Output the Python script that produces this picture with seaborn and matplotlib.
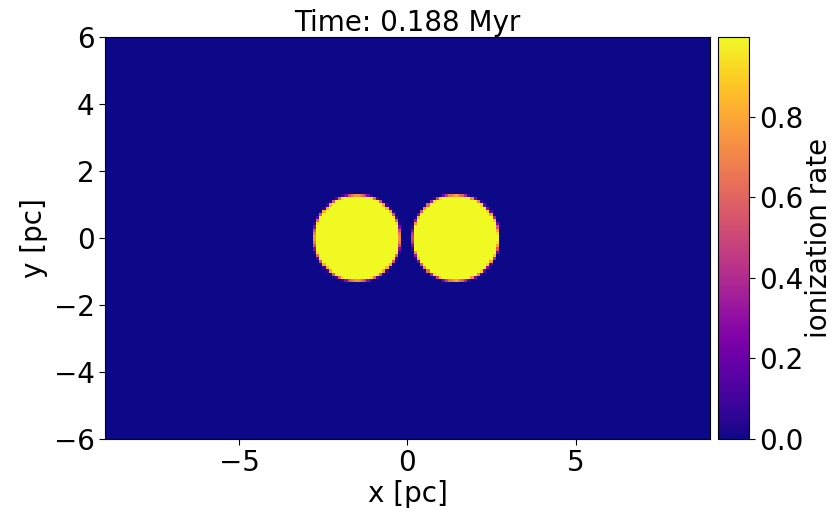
import numpy as np
import pandas as pd
import matplotlib
matplotlib.use("Agg")
import matplotlib.pyplot as plt
import seaborn as sns

# Simulation grid (pc)
x_range = [-9.0, 9.0]
y_range = [-6.0, 6.0]
n_x = 192
n_y = 128

# Ionized regions
region_x = [-1.50, 1.43]
region_y = [0.0, 0.0]
region_radius = [1.29, 1.29]

x_ticks = [-5, 0, 5]
y_ticks = [-6, -4, -2, 0, 2, 4, 6]
cbar_ticks = [0.0, 0.2, 0.4, 0.6, 0.8]
time_myr = 0.188

# Build the ionization field (cell coverage by supersampling)
dx = (x_range[1] - x_range[0]) / n_x
dy = (y_range[1] - y_range[0]) / n_y
sub = 6
xs = x_range[0] + (np.arange(n_x * sub) + 0.5) * dx / sub
ys = y_range[0] + (np.arange(n_y * sub) + 0.5) * dy / sub
X, Y = np.meshgrid(xs, ys)
mask = np.zeros_like(X, dtype=bool)
for cx, cy, r in zip(region_x, region_y, region_radius):
    mask |= (X - cx) ** 2 + (Y - cy) ** 2 <= r ** 2
field = mask.reshape(n_y, sub, n_x, sub).mean(axis=(1, 3)) * 0.998

df = pd.DataFrame(field)

fig = plt.figure(figsize=(8.33, 5.13), dpi=100)
ax = fig.add_axes([0.126, 0.1442, 0.7263, 0.7836])
cax = fig.add_axes([0.862, 0.1442, 0.0372, 0.7836])

sns.heatmap(df, ax=ax, cmap='plasma', vmin=0, vmax=0.998,
            xticklabels=False, yticklabels=False, cbar_ax=cax,
            cbar_kws={'ticks': cbar_ticks})
ax.invert_yaxis()

# Re-enable the frame that heatmap removes
for s in ax.spines.values():
    s.set_visible(True)
    s.set_color('black')
    s.set_linewidth(0.8)

ax.set_xticks([(v - x_range[0]) / dx for v in x_ticks])
ax.set_xticklabels([f"{v}".replace('-', '\u2212') for v in x_ticks], fontsize=20)
ax.set_yticks([(v - y_range[0]) / dy for v in y_ticks])
ax.set_yticklabels([f"{v}".replace('-', '\u2212') for v in y_ticks], fontsize=20, rotation=0)
ax.tick_params(axis='both', length=4, width=0.8, direction='out', pad=3.5)
ax.set_xlabel('x [pc]', fontsize=20, labelpad=2)
ax.set_ylabel('y [pc]', fontsize=20)
ax.set_title(f'Time: {time_myr} Myr', fontsize=20, pad=2)

cbar = ax.collections[0].colorbar
cbar.outline.set_visible(True)
cbar.outline.set_edgecolor('black')
cbar.outline.set_linewidth(0.8)
cbar.ax.tick_params(labelsize=20, length=4, width=0.8)
cbar.set_label('ionization rate', fontsize=20, labelpad=1)

fig.savefig('out.png', dpi=100)
